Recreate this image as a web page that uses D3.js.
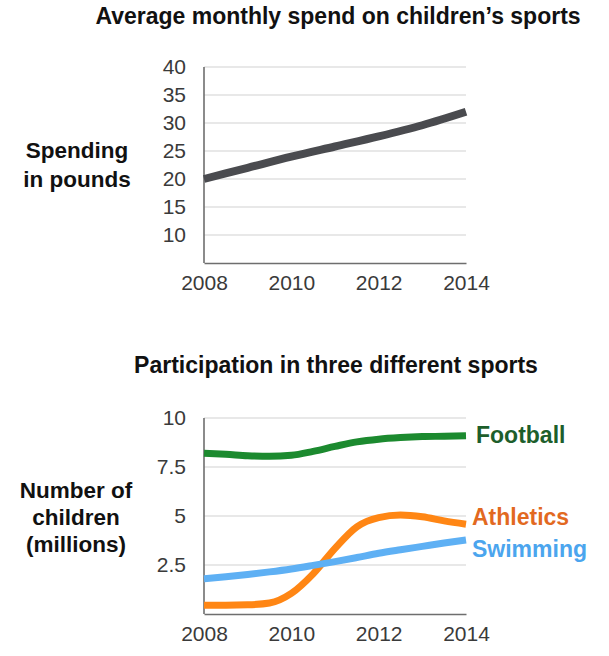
<!DOCTYPE html>
<html><head><meta charset="utf-8">
<script src="https://cdn.jsdelivr.net/npm/d3@7"></script>
<style>
html,body{margin:0;padding:0;background:#fff;}
text{font-family:"Liberation Sans",Arial,Helvetica,sans-serif;}
</style></head>
<body>
<svg id="c" width="609" height="656"></svg>
<script>
// ---- data ----
const spendYears = [2008, 2009, 2010, 2011, 2012, 2013, 2014];
const spendValues = [20, 22, 24, 25.8, 27.6, 29.6, 32];
const spendTicks = [10, 15, 20, 25, 30, 35, 40];
const yearTicks = [2008, 2010, 2012, 2014];

const partYears = [2008, 2008.5, 2009, 2009.5, 2010, 2010.5, 2011, 2011.5, 2012, 2012.5, 2013, 2013.5, 2014];
const football  = [8.2, 8.15, 8.08, 8.05, 8.1, 8.3, 8.55, 8.78, 8.92, 9.0, 9.05, 9.07, 9.1];
const athletics = [0.45, 0.45, 0.47, 0.56, 1.05, 2.05, 3.35, 4.45, 4.92, 5.05, 4.96, 4.75, 4.58];
const swimming  = [1.8, 1.9, 2.02, 2.15, 2.3, 2.48, 2.67, 2.88, 3.1, 3.28, 3.45, 3.62, 3.78];
const partTicks = [2.5, 5, 7.5, 10];
const seriesNames = ["Football", "Athletics", "Swimming"];

// ---- drawing ----
const svg = d3.select("#c");
const tickFont = "21px";

function panel(opts) {
  const g = svg.append("g");
  const x = d3.scaleLinear().domain([2008, 2014]).range([204, 466]);
  const y = d3.scaleLinear().domain(opts.yDomain).range(opts.yRange);
  g.selectAll("line.grid").data(opts.yTicks).enter().append("line")
    .attr("x1", x(2008)).attr("x2", x(2014))
    .attr("y1", d => y(d)).attr("y2", d => y(d))
    .attr("stroke", "#d2d2d2").attr("stroke-width", 1.2);
  const ya = d3.axisLeft(y).tickValues(opts.yTicks).tickSize(0).tickPadding(18)
    .tickFormat(d => String(d));
  const yg = g.append("g").attr("transform", `translate(${x(2008)},0)`).call(ya);
  yg.select(".domain").remove();
  yg.selectAll("text").attr("font-size", tickFont).attr("fill", "#3a3a3a")
    .attr("font-family", "'Liberation Sans',Arial,sans-serif");
  g.append("line").attr("x1", x(2008)).attr("x2", x(2008))
    .attr("y1", y(opts.yTicks[opts.yTicks.length - 1])).attr("y2", y(opts.yDomain[0]))
    .attr("stroke", "#6e6e6e").attr("stroke-width", 1.6);
  const xa = d3.axisBottom(x).tickValues(yearTicks).tickSize(0).tickPadding(12)
    .tickFormat(d3.format("d"));
  const xg = g.append("g").attr("transform", `translate(0,${y(opts.yDomain[0])})`).call(xa);
  xg.select(".domain").attr("stroke", "#6e6e6e").attr("stroke-width", 1.6);
  xg.selectAll("text").attr("font-size", tickFont).attr("fill", "#3a3a3a")
    .attr("font-family", "'Liberation Sans',Arial,sans-serif");
  return {g, x, y};
}

// Top panel
const topP = panel({yDomain: [5, 40], yRange: [263, 67], yTicks: spendTicks});
topP.g.append("path")
  .datum(spendYears.map((yr, i) => [yr, spendValues[i]]))
  .attr("fill", "none").attr("stroke", "#4a4b4f").attr("stroke-width", 8)
  .attr("d", d3.line().x(d => topP.x(d[0])).y(d => topP.y(d[1])).curve(d3.curveMonotoneX));

svg.append("text").attr("x", 338).attr("y", 24).attr("text-anchor", "middle")
  .attr("font-size", "23px").attr("font-weight", "bold").attr("fill", "#111")
  .text("Average monthly spend on children\u2019s sports");

const yl1 = svg.append("text").attr("text-anchor", "middle").attr("font-size", "22.5px")
  .attr("font-weight", "bold").attr("fill", "#111");
yl1.append("tspan").attr("x", 77).attr("y", 158).text("Spending");
yl1.append("tspan").attr("x", 77).attr("y", 187).text("in pounds");

// Bottom panel
const botP = panel({yDomain: [0, 10], yRange: [614, 418], yTicks: partTicks});
const colors = {Football: "#1c8a2f", Athletics: "#ff8614", Swimming: "#5eb0f4"};
const labelColors = {Football: "#1d5e2b", Athletics: "#e2691f", Swimming: "#4ba5ee"};
const seriesData = {Football: football, Athletics: athletics, Swimming: swimming};
const labelPos = {Football: [476, 443], Athletics: [472, 525], Swimming: [472, 557]};
const ln = d3.line().x(d => botP.x(d[0])).y(d => botP.y(d[1])).curve(d3.curveMonotoneX);
seriesNames.forEach(name => {
  botP.g.append("path")
    .datum(partYears.map((yr, i) => [yr, seriesData[name][i]]))
    .attr("fill", "none").attr("stroke", colors[name]).attr("stroke-width", 7)
    .attr("d", ln);
  svg.append("text").attr("x", labelPos[name][0]).attr("y", labelPos[name][1])
    .attr("font-size", "23px").attr("font-weight", "bold").attr("fill", labelColors[name])
    .text(name);
});

svg.append("text").attr("x", 336).attr("y", 373).attr("text-anchor", "middle")
  .attr("font-size", "23px").attr("font-weight", "bold").attr("fill", "#111")
  .text("Participation in three different sports");

const yl2 = svg.append("text").attr("text-anchor", "middle").attr("font-size", "22.5px")
  .attr("font-weight", "bold").attr("fill", "#111");
yl2.append("tspan").attr("x", 76).attr("y", 498).text("Number of");
yl2.append("tspan").attr("x", 76).attr("y", 525).text("children");
yl2.append("tspan").attr("x", 76).attr("y", 552).text("(millions)");
</script>
</body></html>
